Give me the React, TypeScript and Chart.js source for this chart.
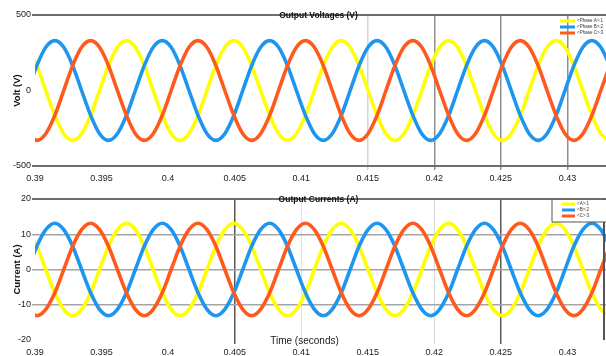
import React, { useEffect, useRef } from 'react';
import { Chart, registerables } from 'chart.js';

Chart.register(...registerables);

// ---- data ----
const timeS = [
  0.38947, 0.39014, 0.39081, 0.39149, 0.39216, 0.39283, 0.39350, 0.39418, 0.39485, 0.39552, 0.39619, 0.39687, 0.39754,
  0.39821, 0.39888, 0.39956, 0.40023, 0.40090, 0.40157, 0.40225, 0.40292, 0.40359, 0.40426, 0.40494, 0.40561,
  0.40628, 0.40695, 0.40763, 0.40830, 0.40897, 0.40964, 0.41032, 0.41099, 0.41166, 0.41233, 0.41301, 0.41368,
  0.41435, 0.41502, 0.41570, 0.41637, 0.41704, 0.41771, 0.41839, 0.41906, 0.41973, 0.42040, 0.42108, 0.42175,
  0.42242, 0.42309, 0.42377, 0.42444, 0.42511, 0.42578, 0.42646, 0.42713, 0.42780, 0.42847, 0.42915, 0.42982,
  0.43049, 0.43116, 0.43184, 0.43251, 0.43318,
];

const voltPhaseA = [
  286,
  165, 0, -165, -286, -330, -286, -165, 0, 165, 286, 330, 286,
  165, 0, -165, -286, -330, -286, -165, 0, 165, 286, 330, 286,
  165, 0, -165, -286, -330, -286, -165, 0, 165, 286, 330, 286,
  165, 0, -165, -286, -330, -286, -165, 0, 165, 286, 330, 286,
  165, 0, -165, -286, -330, -286, -165, 0, 165, 286, 330, 286,
  165, 0, -165, -286, -330,
];
const voltPhaseB = [
  0,
  165, 286, 330, 286, 165, 0, -165, -286, -330, -286, -165, 0,
  165, 286, 330, 286, 165, 0, -165, -286, -330, -286, -165, 0,
  165, 286, 330, 286, 165, 0, -165, -286, -330, -286, -165, 0,
  165, 286, 330, 286, 165, 0, -165, -286, -330, -286, -165, 0,
  165, 286, 330, 286, 165, 0, -165, -286, -330, -286, -165, 0,
  165, 286, 330, 286, 165,
];
const voltPhaseC = [
  -286,
  -330, -286, -165, 0, 165, 286, 330, 286, 165, 0, -165, -286,
  -330, -286, -165, 0, 165, 286, 330, 286, 165, 0, -165, -286,
  -330, -286, -165, 0, 165, 286, 330, 286, 165, 0, -165, -286,
  -330, -286, -165, 0, 165, 286, 330, 286, 165, 0, -165, -286,
  -330, -286, -165, 0, 165, 286, 330, 286, 165, 0, -165, -286,
  -330, -286, -165, 0, 165,
];

const currPhaseA = [
  11.3,
  6.6, 0, -6.6, -11.3, -13.1, -11.3, -6.6, 0, 6.6, 11.3, 13.1, 11.3,
  6.6, 0, -6.6, -11.3, -13.1, -11.3, -6.6, 0, 6.6, 11.3, 13.1, 11.3,
  6.6, 0, -6.6, -11.3, -13.1, -11.3, -6.6, 0, 6.6, 11.3, 13.1, 11.3,
  6.6, 0, -6.6, -11.3, -13.1, -11.3, -6.6, 0, 6.6, 11.3, 13.1, 11.3,
  6.6, 0, -6.6, -11.3, -13.1, -11.3, -6.6, 0, 6.6, 11.3, 13.1, 11.3,
  6.6, 0, -6.6, -11.3, -13.1,
];
const currPhaseB = [
  0,
  6.6, 11.3, 13.1, 11.3, 6.6, 0, -6.6, -11.3, -13.1, -11.3, -6.6, 0,
  6.6, 11.3, 13.1, 11.3, 6.6, 0, -6.6, -11.3, -13.1, -11.3, -6.6, 0,
  6.6, 11.3, 13.1, 11.3, 6.6, 0, -6.6, -11.3, -13.1, -11.3, -6.6, 0,
  6.6, 11.3, 13.1, 11.3, 6.6, 0, -6.6, -11.3, -13.1, -11.3, -6.6, 0,
  6.6, 11.3, 13.1, 11.3, 6.6, 0, -6.6, -11.3, -13.1, -11.3, -6.6, 0,
  6.6, 11.3, 13.1, 11.3, 6.6,
];
const currPhaseC = [
  -11.3,
  -13.1, -11.3, -6.6, 0, 6.6, 11.3, 13.1, 11.3, 6.6, 0, -6.6, -11.3,
  -13.1, -11.3, -6.6, 0, 6.6, 11.3, 13.1, 11.3, 6.6, 0, -6.6, -11.3,
  -13.1, -11.3, -6.6, 0, 6.6, 11.3, 13.1, 11.3, 6.6, 0, -6.6, -11.3,
  -13.1, -11.3, -6.6, 0, 6.6, 11.3, 13.1, 11.3, 6.6, 0, -6.6, -11.3,
  -13.1, -11.3, -6.6, 0, 6.6, 11.3, 13.1, 11.3, 6.6, 0, -6.6, -11.3,
  -13.1, -11.3, -6.6, 0, 6.6,
];

const voltLabels = ['<Phase A>:1', '<Phase B>:2', '<Phase C>:3'];
const currLabels = ['<A>:1', '<B>:2', '<C>:3'];

const xTicks = [0.39, 0.395, 0.4, 0.405, 0.41, 0.415, 0.42, 0.425, 0.43];
const xTickLabels = ['0.39', '0.395', '0.4', '0.405', '0.41', '0.415', '0.42', '0.425', '0.43'];
const xMin = 0.39;
const xMax = 0.4329;

const voltTicks = [-500, 0, 500];
const currTicks = [-20, -10, 0, 10, 20];

const voltTitle = 'Output Voltages (V)';
const currTitle = 'Output Currents (A)';
const voltAxisTitle = 'Volt (V)';
const currAxisTitle = 'Current (A)';
const timeAxisTitle = 'Time (seconds)';

// ---- styles ----
const COLORS = ['#FFFF00', '#1E96F0', '#FF5A1E'];
const FONT = '"Liberation Sans", Arial, sans-serif';
const W = 606;

const near = (a: number, b: number) => Math.abs(a - b) < 1e-7;

type GridStyle = { value: number; color: string; width: number }[];

function styleFor(list: GridStyle, v: number) {
  const s = list.find((g) => near(g.value, v));
  return s || { value: v, color: 'rgba(0,0,0,0)', width: 1 };
}

type Spec = {
  height: number;
  padTop: number;
  xAxisH: number;
  yMin: number;
  yMax: number;
  yTicks: number[];
  series: number[][];
  labels: string[];
  title: string;
  yTitle: string;
  xGrid: GridStyle;
  yGrid: GridStyle;
  legend: { lineL: number; lineR: number; rows: number[]; textX: number; box: boolean };
  timeTitle: boolean;
  rightBorder: boolean;
};

function makeConfig(spec: Spec): any {
  const datasets = spec.series.map((arr, i) => ({
    label: spec.labels[i],
    data: timeS.map((t, j) => ({ x: t, y: arr[j] })),
    borderColor: COLORS[i],
    backgroundColor: COLORS[i],
    borderWidth: 3.6,
    pointRadius: 0,
    cubicInterpolationMode: 'monotone',
    fill: false,
    order: 2 - i,
  }));

  const overlay = {
    id: 'overlay',
    afterDraw(chart: any) {
      const { ctx, chartArea } = chart;
      ctx.save();
      if (spec.rightBorder) {
        ctx.strokeStyle = '#555';
        ctx.lineWidth = 2;
        ctx.beginPath();
        ctx.moveTo(chartArea.right - 2, chartArea.top);
        ctx.lineTo(chartArea.right - 2, chartArea.bottom);
        ctx.stroke();
      }
      // title
      ctx.fillStyle = '#111';
      ctx.font = `bold 8.5px ${FONT}`;
      ctx.textAlign = 'center';
      ctx.textBaseline = 'middle';
      ctx.fillText(spec.title, (chartArea.left + chartArea.right) / 2 - 2, chartArea.top + 1);
      // legend
      const lg = spec.legend;
      if (lg.box) {
        ctx.fillStyle = '#fff';
        ctx.fillRect(chartArea.right - 54, chartArea.top + 1, 54, lg.rows[2] + 5);
        ctx.strokeStyle = '#555';
        ctx.lineWidth = 1;
        ctx.beginPath();
        ctx.moveTo(chartArea.right - 54, chartArea.top);
        ctx.lineTo(chartArea.right - 54, chartArea.top + lg.rows[2] + 6);
        ctx.lineTo(chartArea.right, chartArea.top + lg.rows[2] + 6);
        ctx.stroke();
      }
      spec.labels.forEach((lab, i) => {
        const y = chartArea.top + lg.rows[i];
        ctx.strokeStyle = COLORS[i];
        ctx.lineWidth = 3;
        ctx.beginPath();
        ctx.moveTo(chartArea.right - lg.lineL, y);
        ctx.lineTo(chartArea.right - lg.lineR, y);
        ctx.stroke();
        ctx.fillStyle = '#333';
        ctx.font = `4.5px ${FONT}`;
        ctx.textAlign = 'left';
        ctx.textBaseline = 'middle';
        ctx.fillText(lab, chartArea.right - lg.textX, y);
      });
      if (spec.timeTitle) {
        ctx.fillStyle = '#222';
        ctx.font = `10px ${FONT}`;
        ctx.textAlign = 'center';
        ctx.textBaseline = 'middle';
        ctx.fillText(timeAxisTitle, chartArea.left + (chartArea.right - chartArea.left) * 0.472, chartArea.bottom + 1);
      }
      ctx.restore();
    },
  };

  return {
    type: 'line',
    data: { datasets },
    plugins: [overlay],
    options: {
      animation: false,
      responsive: false,
      events: [],
      layout: { padding: { top: spec.padTop, right: 0, bottom: 0, left: 0 } },
      plugins: { legend: { display: false }, tooltip: { enabled: false }, title: { display: false } },
      scales: {
        x: {
          type: 'linear',
          min: xMin,
          max: xMax,
          afterFit: (s: any) => {
            s.height = spec.xAxisH;
          },
          afterBuildTicks: (s: any) => {
            s.ticks = xTicks.map((value) => ({ value }));
          },
          border: { display: false },
          grid: {
            drawTicks: true,
            tickLength: 4,
            color: (c: any) => styleFor(spec.xGrid, c.tick ? c.tick.value : NaN).color,
            lineWidth: (c: any) => styleFor(spec.xGrid, c.tick ? c.tick.value : NaN).width,
          },
          ticks: {
            autoSkip: false,
            maxRotation: 0,
            padding: 3,
            color: '#1a1a1a',
            font: { family: FONT, size: 9 },
            callback: (_v: any, i: number) => xTickLabels[i],
          },
        },
        y: {
          type: 'linear',
          min: spec.yMin,
          max: spec.yMax,
          afterFit: (s: any) => {
            s.width = 35;
          },
          afterBuildTicks: (s: any) => {
            s.ticks = spec.yTicks.map((value) => ({ value }));
          },
          border: { display: false },
          grid: {
            drawTicks: true,
            tickLength: 3,
            color: (c: any) => styleFor(spec.yGrid, c.tick ? c.tick.value : NaN).color,
            lineWidth: (c: any) => styleFor(spec.yGrid, c.tick ? c.tick.value : NaN).width,
          },
          ticks: {
            padding: 1,
            color: '#1a1a1a',
            font: { family: FONT, size: 9 },
            callback: (v: any) => String(v),
          },
          title: {
            display: true,
            text: spec.yTitle,
            color: '#111',
            font: { family: FONT, size: 9.5, weight: 'bold' },
            padding: { top: 12, bottom: 0 },
          },
        },
      },
    },
  };
}

function ScopeChart({ spec }: { spec: Spec }) {
  const ref = useRef<HTMLCanvasElement>(null);
  useEffect(() => {
    const chart = new Chart(ref.current as HTMLCanvasElement, makeConfig(spec));
    return () => chart.destroy();
  }, [spec]);
  return (
    <canvas
      ref={ref}
      width={W}
      height={spec.height}
      style={{ display: 'block', width: W, height: spec.height }}
    />
  );
}

const topSpec: Spec = {
  height: 186,
  padTop: 15,
  xAxisH: 20,
  yMin: -500,
  yMax: 500,
  yTicks: voltTicks,
  series: [voltPhaseA, voltPhaseB, voltPhaseC],
  labels: voltLabels,
  title: voltTitle,
  yTitle: voltAxisTitle,
  xGrid: [
    { value: 0.415, color: '#d4d4d4', width: 1.5 },
    { value: 0.42, color: '#8f8f8f', width: 1.5 },
    { value: 0.425, color: '#8f8f8f', width: 1.5 },
    { value: 0.43, color: '#8f8f8f', width: 1.5 },
  ],
  yGrid: [
    { value: 500, color: '#6e6e6e', width: 2 },
    { value: -500, color: '#6e6e6e', width: 2 },
  ],
  legend: { lineL: 46, lineR: 31, rows: [6, 12, 18], textX: 29, box: false },
  timeTitle: false,
  rightBorder: false,
};

const bottomSpec: Spec = {
  height: 170,
  padTop: 13,
  xAxisH: 16,
  yMin: -20,
  yMax: 20,
  yTicks: currTicks,
  series: [currPhaseA, currPhaseB, currPhaseC],
  labels: currLabels,
  title: currTitle,
  yTitle: currAxisTitle,
  xGrid: [
    { value: 0.405, color: '#5a5a5a', width: 1.5 },
    { value: 0.41, color: '#e2e2e2', width: 1 },
    { value: 0.42, color: '#d8d8d8', width: 1 },
    { value: 0.425, color: '#5a5a5a', width: 1.5 },
  ],
  yGrid: [
    { value: 20, color: '#6e6e6e', width: 2 },
    { value: 10, color: '#a5a5a5', width: 1.5 },
    { value: 0, color: '#a5a5a5', width: 1.5 },
    { value: -10, color: '#a5a5a5', width: 1.5 },
  ],
  legend: { lineL: 44, lineR: 31, rows: [5, 11, 17], textX: 29, box: true },
  timeTitle: true,
  rightBorder: true,
};

export default function App() {
  useEffect(() => {
    document.body.style.margin = '0';
    document.body.style.background = '#fff';
  }, []);
  return (
    <div style={{ position: 'relative', width: W, height: 356, background: '#fff', overflow: 'hidden' }}>
      <ScopeChart spec={topSpec} />
      <ScopeChart spec={bottomSpec} />
    </div>
  );
}
